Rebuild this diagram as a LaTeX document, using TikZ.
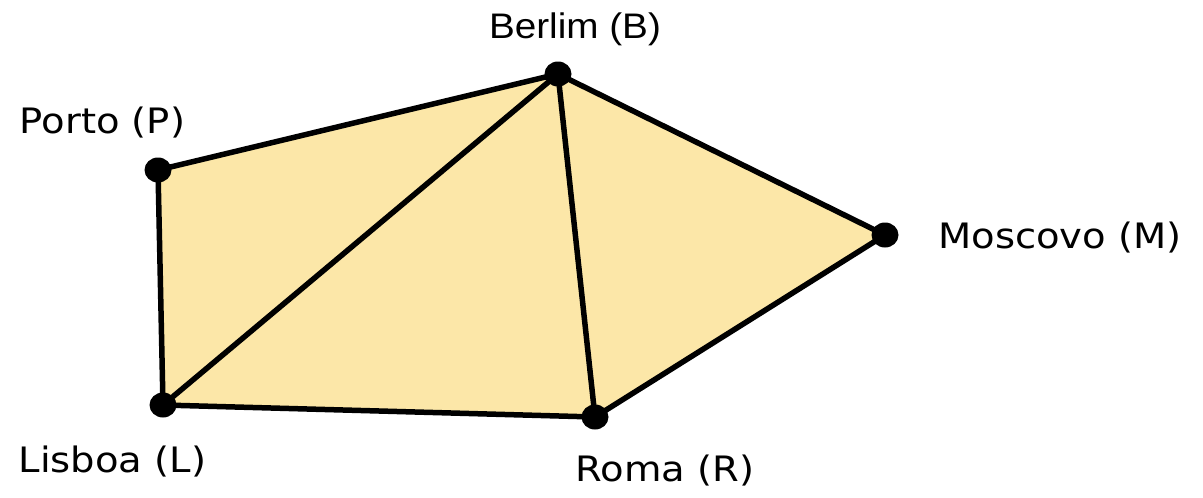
\documentclass[tikz,border=0pt]{standalone}
\usepackage{fontspec}
\setmainfont{DejaVu Sans}
\newfontfamily\arialfont{Liberation Sans}
\definecolor{fillyel}{HTML}{FCE7A8}
\begin{document}
\begin{tikzpicture}[x=1pt,y=-1pt,
  edge/.style={line width=5.5pt,line join=round,line cap=round},
  lab/.style={anchor=base,inner sep=0pt,font=\fontsize{35}{40}\selectfont,xscale=1.1},
  labB/.style={anchor=base,inner sep=0pt,font=\arialfont\fontsize{35.5}{40}\selectfont,xscale=1.09}]
\useasboundingbox (0,0) rectangle (1203,498);
\coordinate (p) at (158,170);
\coordinate (b) at (558,74);
\coordinate (m) at (885,235);
\coordinate (r) at (595,417);
\coordinate (l) at (163,405);
\fill[fillyel] (p) -- (b) -- (m) -- (r) -- (l) -- cycle;
\draw[edge] (p) -- (b) -- (m) -- (r) -- (l) -- cycle;
\draw[edge] (l) -- (b) -- (r);
\foreach \c in {p,b,m,r,l} \fill (\c) ellipse[x radius=13.5, y radius=12.5];
\node[labB] (tb) at (575,38) {Berlim (B)};
\node[lab] (tp) at (102.5,133) {Porto (P)};
\node[lab] (tm) at (1060,248) {Moscovo (M)};
\node[lab] (tl) at (112.5,472) {Lisboa (L)};
\node[lab] (tr) at (665,481) {Roma (R)};
\end{tikzpicture}
\end{document}
